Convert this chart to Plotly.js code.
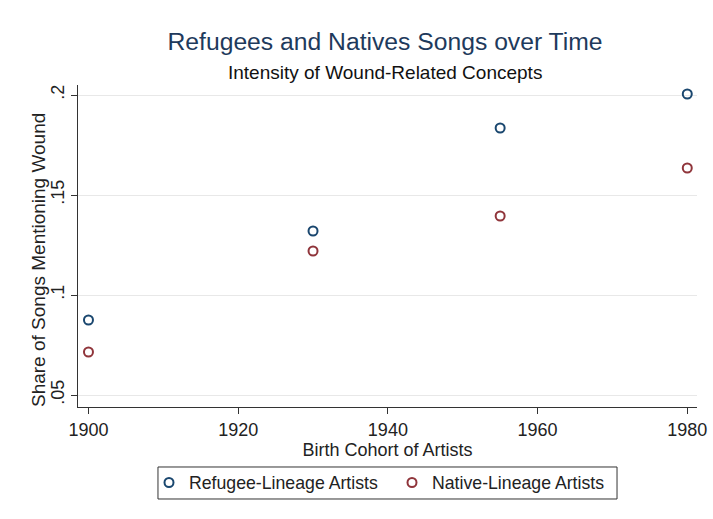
<!DOCTYPE html>
<html>
<head>
<meta charset="utf-8">
<script src="https://cdn.plot.ly/plotly-3.0.1.min.js"></script>
<style>html,body{margin:0;padding:0;background:#fff;}#chart{width:713px;height:519px;}</style>
</head>
<body>
<div id="chart"></div>
<script>
const cohorts = [1900, 1930, 1955, 1980];
const refugeeShare = [0.0875, 0.132, 0.1835, 0.2005];
const nativeShare = [0.0715, 0.122, 0.1395, 0.1635];
const yTickVals = [0.05, 0.1, 0.15, 0.2];
const yTickText = ['.05', '.1', '.15', '.2'];
const xTickVals = [1900, 1920, 1940, 1960, 1980];

const font = 'Liberation Sans, Arial, sans-serif';
const traces = [
  {x: cohorts, y: refugeeShare, name: 'Refugee-Lineage Artists', type: 'scatter', mode: 'markers',
   marker: {symbol: 'circle-open', size: 9, color: '#1a476f', line: {width: 2, color: '#1a476f'}}},
  {x: cohorts, y: nativeShare, name: 'Native-Lineage Artists', type: 'scatter', mode: 'markers',
   marker: {symbol: 'circle-open', size: 9, color: '#90353b', line: {width: 2, color: '#90353b'}}}
];
const layout = {
  width: 713, height: 519,
  paper_bgcolor: '#ffffff', plot_bgcolor: '#ffffff',
  margin: {l: 78, r: 16, t: 85, b: 112},
  font: {family: font, color: '#222'},
  title: {text: 'Refugees and Natives Songs over Time', font: {family: font, size: 24.7, color: '#1e3a5c'},
    x: 0.496, xref: 'paper', xanchor: 'center', y: 0.92, yref: 'container', yanchor: 'middle'},
  annotations: [
    {text: 'Intensity of Wound-Related Concepts', xref: 'paper', yref: 'paper', x: 0.496, y: 1.040,
     xanchor: 'center', yanchor: 'middle', showarrow: false, font: {family: font, size: 19, color: '#111'}},
    {text: 'Share of Songs Mentioning Wound', xref: 'paper', yref: 'paper', x: -0.0646, y: 0.4565,
     xanchor: 'center', yanchor: 'middle', textangle: -90, showarrow: false,
     font: {family: font, size: 19, color: '#222'}}
  ],
  shapes: [{type: 'rect', xref: 'paper', yref: 'paper', x0: 0.1292, x1: 0.8708, y0: -0.1863, y1: -0.2857,
    line: {color: '#333', width: 1}, fillcolor: 'rgba(0,0,0,0)'}],
  xaxis: {range: [1898.6, 1981.3], tickvals: xTickVals, ticks: 'outside', ticklen: 6, tickcolor: '#333',
    showgrid: false, zeroline: false, showline: true, linecolor: '#333', linewidth: 1,
    tickfont: {size: 18, color: '#222'},
    title: {text: 'Birth Cohort of Artists', font: {size: 18, color: '#222'}, standoff: 0}},
  yaxis: {range: [0.044, 0.205], tickvals: yTickVals, ticktext: yTickText, tickangle: -90,
    ticks: 'outside', ticklen: 6, tickcolor: '#333', showgrid: true, gridcolor: '#e8e8e8', gridwidth: 1,
    zeroline: false, showline: true, linecolor: '#333', linewidth: 1,
    tickfont: {size: 18, color: '#222'}},
  showlegend: true,
  legend: {orientation: 'h', x: 0.1147, xanchor: 'left', y: -0.236, yanchor: 'middle',
    borderwidth: 0, bgcolor: 'rgba(0,0,0,0)', font: {size: 17.7, color: '#222'},
    entrywidth: 198, itemwidth: 30}
};
Plotly.newPlot('chart', traces, layout, {displayModeBar: false, staticPlot: true});
</script>
</body>
</html>
